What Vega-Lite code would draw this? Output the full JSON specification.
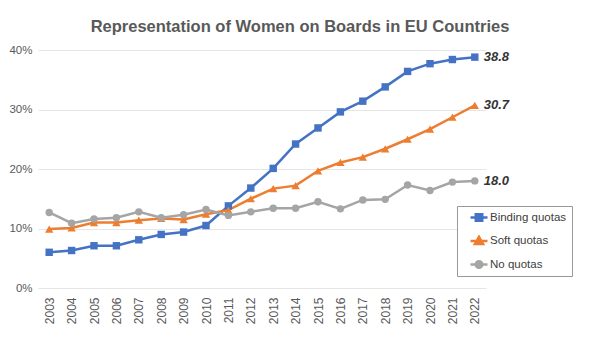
{
  "$schema": "https://vega.github.io/schema/vega-lite/v6.json",
  "width": 448,
  "height": 238,
  "autosize": {"type": "none"},
  "padding": {"left": 38, "top": 50, "right": 118, "bottom": 55},
  "background": "white",
  "config": {
    "font": "Liberation Sans",
    "view": {"stroke": null}
  },
  "title": {
    "text": "Representation of Women on Boards in EU Countries",
    "fontSize": 16.5,
    "fontWeight": "bold",
    "color": "#595959",
    "anchor": "middle",
    "frame": "group",
    "dx": 38,
    "offset": 9
  },
  "data": {
    "values": [
      {"year": "2003", "type": "Binding quotas", "value": 6.0},
      {"year": "2004", "type": "Binding quotas", "value": 6.3},
      {"year": "2005", "type": "Binding quotas", "value": 7.1},
      {"year": "2006", "type": "Binding quotas", "value": 7.1},
      {"year": "2007", "type": "Binding quotas", "value": 8.1},
      {"year": "2008", "type": "Binding quotas", "value": 9.0},
      {"year": "2009", "type": "Binding quotas", "value": 9.4},
      {"year": "2010", "type": "Binding quotas", "value": 10.5},
      {"year": "2011", "type": "Binding quotas", "value": 13.8},
      {"year": "2012", "type": "Binding quotas", "value": 16.8},
      {"year": "2013", "type": "Binding quotas", "value": 20.1},
      {"year": "2014", "type": "Binding quotas", "value": 24.2},
      {"year": "2015", "type": "Binding quotas", "value": 26.9},
      {"year": "2016", "type": "Binding quotas", "value": 29.6},
      {"year": "2017", "type": "Binding quotas", "value": 31.4},
      {"year": "2018", "type": "Binding quotas", "value": 33.8},
      {"year": "2019", "type": "Binding quotas", "value": 36.4},
      {"year": "2020", "type": "Binding quotas", "value": 37.7},
      {"year": "2021", "type": "Binding quotas", "value": 38.4},
      {"year": "2022", "type": "Binding quotas", "value": 38.8},
      {"year": "2003", "type": "Soft quotas", "value": 9.9},
      {"year": "2004", "type": "Soft quotas", "value": 10.1},
      {"year": "2005", "type": "Soft quotas", "value": 11.0},
      {"year": "2006", "type": "Soft quotas", "value": 11.0},
      {"year": "2007", "type": "Soft quotas", "value": 11.4},
      {"year": "2008", "type": "Soft quotas", "value": 11.7},
      {"year": "2009", "type": "Soft quotas", "value": 11.5},
      {"year": "2010", "type": "Soft quotas", "value": 12.4},
      {"year": "2011", "type": "Soft quotas", "value": 13.1},
      {"year": "2012", "type": "Soft quotas", "value": 15.0},
      {"year": "2013", "type": "Soft quotas", "value": 16.7},
      {"year": "2014", "type": "Soft quotas", "value": 17.2},
      {"year": "2015", "type": "Soft quotas", "value": 19.7},
      {"year": "2016", "type": "Soft quotas", "value": 21.1},
      {"year": "2017", "type": "Soft quotas", "value": 22.0},
      {"year": "2018", "type": "Soft quotas", "value": 23.4},
      {"year": "2019", "type": "Soft quotas", "value": 25.0},
      {"year": "2020", "type": "Soft quotas", "value": 26.7},
      {"year": "2021", "type": "Soft quotas", "value": 28.7},
      {"year": "2022", "type": "Soft quotas", "value": 30.7},
      {"year": "2003", "type": "No quotas", "value": 12.7},
      {"year": "2004", "type": "No quotas", "value": 10.9},
      {"year": "2005", "type": "No quotas", "value": 11.6},
      {"year": "2006", "type": "No quotas", "value": 11.8},
      {"year": "2007", "type": "No quotas", "value": 12.8},
      {"year": "2008", "type": "No quotas", "value": 11.8},
      {"year": "2009", "type": "No quotas", "value": 12.3},
      {"year": "2010", "type": "No quotas", "value": 13.2},
      {"year": "2011", "type": "No quotas", "value": 12.2},
      {"year": "2012", "type": "No quotas", "value": 12.8},
      {"year": "2013", "type": "No quotas", "value": 13.4},
      {"year": "2014", "type": "No quotas", "value": 13.4},
      {"year": "2015", "type": "No quotas", "value": 14.5},
      {"year": "2016", "type": "No quotas", "value": 13.3},
      {"year": "2017", "type": "No quotas", "value": 14.8},
      {"year": "2018", "type": "No quotas", "value": 14.9},
      {"year": "2019", "type": "No quotas", "value": 17.3},
      {"year": "2020", "type": "No quotas", "value": 16.4},
      {"year": "2021", "type": "No quotas", "value": 17.8},
      {"year": "2022", "type": "No quotas", "value": 18.0}
    ]
  },
  "encoding": {
    "x": {
      "field": "year",
      "type": "ordinal",
      "scale": {"type": "point", "padding": 0.5},
      "axis": {
        "title": null,
        "labelAngle": -90,
        "labelAlign": "right",
        "labelBaseline": "middle",
        "labelFontSize": 12,
        "labelColor": "#595959",
        "labelPadding": 9,
        "ticks": false,
        "domain": false,
        "grid": false
      }
    },
    "y": {
      "field": "value",
      "type": "quantitative",
      "scale": {"domain": [0, 40], "nice": false},
      "axis": {
        "title": null,
        "values": [0, 10, 20, 30, 40],
        "labelExpr": "datum.value + '%'",
        "labelFontSize": 11.5,
        "labelColor": "#595959",
        "labelPadding": 6,
        "ticks": false,
        "domain": false,
        "grid": true,
        "gridColor": "#e6e6e6",
        "gridWidth": 1
      }
    }
  },
  "layer": [
    {
      "mark": {"type": "line", "strokeWidth": 2.5},
      "encoding": {
        "color": {
          "field": "type",
          "type": "nominal",
          "scale": {
            "domain": ["Binding quotas", "Soft quotas", "No quotas"],
            "range": ["#4472c4", "#ed7d31", "#a5a5a5"]
          },
          "legend": {
            "title": null,
            "orient": "none",
            "legendX": 419,
            "legendY": 156,
            "labelFontSize": 11.5,
            "labelColor": "#404040",
            "labelOffset": 1,
            "symbolSize": 289,
            "symbolOffset": 7,
            "symbolStrokeWidth": 2.5,
            "clipHeight": 13,
            "rowPadding": 10.5,
            "padding": 5,
            "strokeColor": "#999999",
            "fillColor": "white",
            "cornerRadius": 0,
            "encode": {
              "symbols": {
                "update": {
                  "shape": {"signal": "datum.value === 'Binding quotas' ? 'M-1,0L1,0M-0.38,-0.38L0.38,-0.38L0.38,0.38L-0.38,0.38Z' : datum.value === 'Soft quotas' ? 'M-1,0L1,0M0,-0.5L0.48,0.35L-0.48,0.35Z' : 'M-1,0L1,0M0.38,0A0.38,0.38 0 1,1 -0.38,0A0.38,0.38 0 1,1 0.38,0Z'"},
                  "fill": {"signal": "scale('color', datum.value)"},
                  "fillOpacity": {"value": 1}
                }
              }
            }
          }
        }
      }
    },
    {
      "mark": {"type": "point", "filled": true, "opacity": 1},
      "encoding": {
        "color": {
          "field": "type",
          "type": "nominal",
          "legend": null
        },
        "shape": {
          "condition": [
            {"test": "datum.type === 'Binding quotas'", "value": "square"},
            {"test": "datum.type === 'Soft quotas'", "value": "triangle-up"}
          ],
          "value": "circle"
        },
        "size": {
          "condition": [
            {"test": "datum.type === 'Soft quotas'", "value": 70}
          ],
          "value": 55
        }
      }
    },
    {
      "transform": [{"filter": "datum.year === '2022'"}],
      "mark": {
        "type": "text",
        "align": "left",
        "baseline": "middle",
        "dx": 9,
        "fontSize": 13,
        "fontStyle": "italic",
        "fontWeight": "bold",
        "color": "#333333"
      },
      "encoding": {
        "text": {"field": "value", "type": "quantitative", "format": ".1f"}
      }
    }
  ]
}
